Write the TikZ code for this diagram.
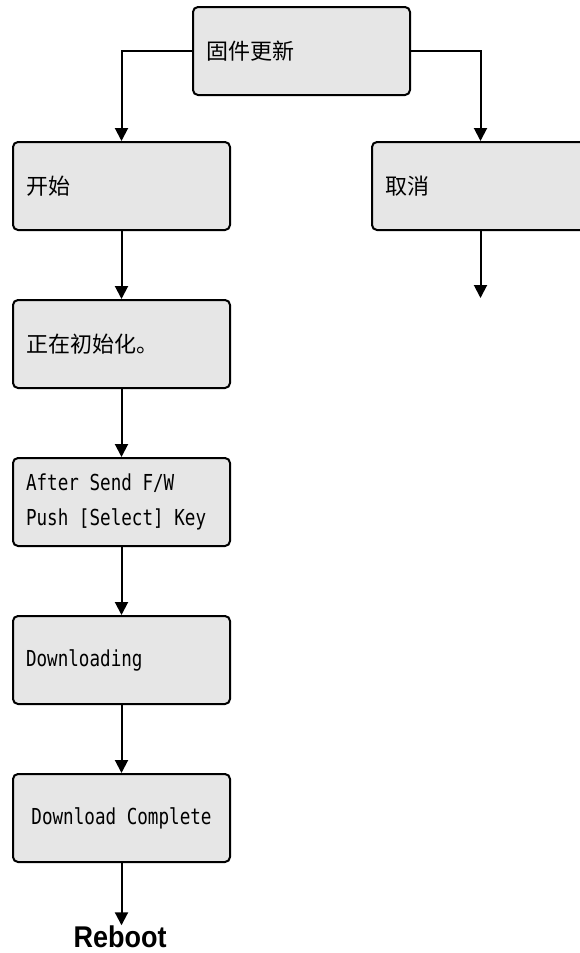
\documentclass[tikz,border=0pt]{standalone}
\usepackage{fontspec}
\setmainfont{Liberation Sans}
\newfontfamily\cjkfont{Noto Sans CJK SC}
\newfontfamily\monofnt{DejaVu Sans Mono}[FakeStretch=0.8]
\newcommand\myLatFont{\monofnt\fontsize{22pt}{35pt}\selectfont}
\newcommand\msp{\hspace*{10.6pt}}
\usetikzlibrary{arrows.meta}
\definecolor{boxfill}{HTML}{E6E6E6}
\tikzset{
  box/.style={draw=black, line width=2pt, fill=boxfill, rounded corners=5pt,
    minimum height=88pt, text width=191pt, inner xsep=13pt, inner ysep=0pt, align=left},
  cjk/.style={font=\cjkfont\fontsize{22pt}{35pt}\selectfont},
  lat/.style={font=\myLatFont},
  arr/.style={draw=black, line width=2pt, -{Triangle[width=13pt,length=13pt]}},
  reboottext/.style={font=\bfseries\fontsize{30pt}{30pt}\selectfont, inner sep=0pt}
}
\begin{document}
\begin{tikzpicture}[x=1pt, y=-1pt]
\clip (0,0) rectangle (580,953);
\fill[white] (0,0) rectangle (580,953);
\node[box, cjk] (top) at (301.5,51) {固件更新};
\node[box, cjk] (start) at (121.5,186) {开始};
\node[box, cjk] (cancel) at (480.5,186) {取消};
\node[box, cjk] (init) at (121.5,344) {正在初始化。};
\node[box, lat] (send) at (121.5,502) {After\msp Send\msp F/W\\Push\msp [Select]\msp Key};
\node[box, lat] (dl) at (121.5,660) {Downloading};
\node[box, lat, align=center] (done) at (121.5,818) {Download\msp Complete};
\node[reboottext] (reboot) at (120,936.5) {\scalebox{0.9}[1]{Reboot}};
\coordinate (cancelend) at (480.5,298);
\draw[arr] (top.west) -| (start.north);
\draw[arr] (top.east) -| (cancel.north);
\draw[arr] (cancel.south) -- (cancelend);
\draw[arr] (start.south) -- (init.north);
\draw[arr] (init.south) -- (send.north);
\draw[arr] (send.south) -- (dl.north);
\draw[arr] (dl.south) -- (done.north);
\draw[arr] (done.south) -- (done.south |- reboot.north);
\end{tikzpicture}
\end{document}
